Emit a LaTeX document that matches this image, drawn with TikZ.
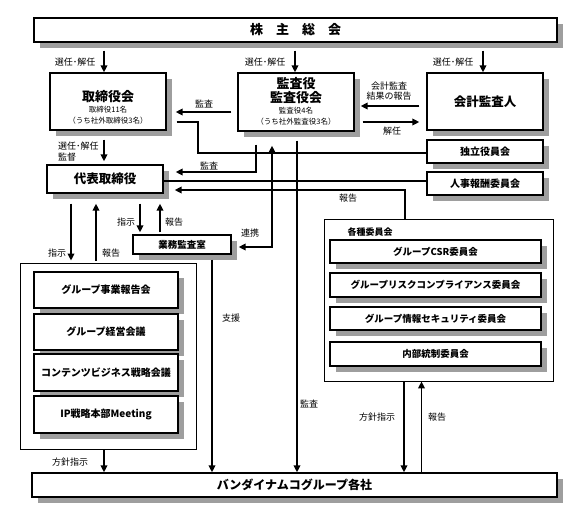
\documentclass[tikz,border=0pt]{standalone}
\usepackage{fontspec}
\setmainfont{Noto Sans CJK JP}
\usetikzlibrary{shadows,calc,arrows.meta}
\begin{document}
\begin{tikzpicture}[x=1pt,y=-1pt,
 box/.style={draw, line width=1.3pt, fill=white, inner sep=0pt, align=center,
   drop shadow={shadow xshift=5.5pt, shadow yshift=-5.5pt, fill=black!38, opacity=1}},
 cont/.style={draw, line width=0.8pt, inner sep=0pt},
 arr/.style={line width=1.8pt, -{Triangle[length=7pt,width=6.5pt]}},
 arrb/.style={line width=1.8pt, {Triangle[length=7pt,width=6.5pt]}-{Triangle[length=7pt,width=6.5pt]}},
 ln/.style={line width=1.8pt},
 lab/.style={font=\fontsize{9}{10.5}\selectfont, inner sep=0pt},
 sm/.style={font=\fontsize{7.5}{9}\selectfont, inner sep=0pt},
 ttl/.style={font=\bfseries\fontsize{13}{15}\selectfont, inner sep=0pt},
 bf/.style={font=\bfseries\fontsize{#1}{#1}\selectfont},
]
\useasboundingbox (0,0) rectangle (573,512);
\fill[white] (0,0) rectangle (573,512);

% containers
\node[cont, minimum width=176pt, minimum height=186pt] (leftc) at (108,356) {};
\node[cont, minimum width=229pt, minimum height=162pt] (kakushu) at (438.5,300) {};

% boxes
\node[box, bf=13, minimum width=523pt, minimum height=24pt] (share) at (295.5,30) {株　主　総　会};

\node[box, minimum width=116pt, minimum height=57pt] (tori) at (108,101.5) {};
\node[ttl] (toriT) at (108,97) {取締役会};
\node[sm] (toriS1) at (108,109.5) {取締役11名};
\node[sm] (toriS2) at (108,120.5) {（うち社外取締役3名）};

\node[box, minimum width=116pt, minimum height=58pt] (kansa) at (296,102) {};
\node[ttl] (kansaT1) at (296,84) {監査役};
\node[ttl] (kansaT2) at (296,97.5) {監査役会};
\node[sm] (kansaS1) at (296,111) {監査役4名};
\node[sm] (kansaS2) at (296,122) {（うち社外監査役3名）};

\node[box, bf=12.5, minimum width=116pt, minimum height=57pt] (kaikei) at (485,101.5) {会計監査人};
\node[box, bf=10, minimum width=116pt, minimum height=23pt] (dokuritsu) at (485,151.5) {独立役員会};
\node[box, bf=10, minimum width=116pt, minimum height=23pt] (jinji) at (485,183.5) {人事報酬委員会};
\node[box, bf=12.5, minimum width=116pt, minimum height=28pt] (daihyo) at (105,179) {代表取締役};
\node[box, bf=9.5, minimum width=98pt, minimum height=19pt] (gyomu) at (182,244.5) {業務監査室};

\node[box, bf=10, minimum width=144pt, minimum height=36pt] (g1) at (106,290) {グループ事業報告会};
\node[box, bf=10, minimum width=144pt, minimum height=36pt] (g2) at (106,332) {グループ経営会議};
\node[box, bf=10, minimum width=144pt, minimum height=37pt] (g3) at (106,372.5) {コンテンツビジネス戦略会議};
\node[box, bf=10, minimum width=144pt, minimum height=37pt] (g4) at (106,414.5) {IP戦略本部Meeting};

\node[bf=9, inner sep=0pt] (kakushuL) at (370,232) {各種委員会};
\node[box, bf=9.5, minimum width=211pt, minimum height=23pt] (c1) at (435.5,251.5) {グループCSR委員会};
\node[box, bf=9.5, minimum width=211pt, minimum height=24pt] (c2) at (435.5,285) {グループリスクコンプライアンス委員会};
\node[box, bf=9.5, minimum width=211pt, minimum height=23pt] (c3) at (435.5,318.5) {グループ情報セキュリティ委員会};
\node[box, bf=9.5, minimum width=211pt, minimum height=24pt] (c4) at (435.5,354) {内部統制委員会};

\node[box, bf=12, minimum width=525pt, minimum height=24pt] (kaisha) at (294.5,485) {バンダイナムコグループ各社};

% shareholders arrows
\draw[arr] ($(share.south -| tori.north)+(-4,8)$) -- ($(tori.north)+(-4,0)$);
\draw[arr] ($(share.south -| kansa.north)+(-1,8)$) -- ($(kansa.north)+(-1,0)$);
\draw[arr] ($(share.south -| kaikei.north)+(-2,8)$) -- ($(kaikei.north)+(-2,0)$);
\node[lab] (l1) at (75,62) {選任･解任};
\node[lab] (l2) at (265,62) {選任･解任};
\node[lab] (l3) at (453,62) {選任･解任};

% kansa -> tori
\draw[arr] ($(kansa.west)+(-6,10)$) -- ($(kansa.west -| tori.east)+(9,10)$);
\node[lab] (l4) at (204,104) {監査};

% kaikei <-> kansa
\draw[arr] ($(kaikei.west)+(-7,4.5)$) -- ($(kaikei.west -| kansa.east)+(6,4.5)$);
\draw[arr] ($(kansa.east)+(8,20)$) -- ($(kansa.east -| kaikei.west)+(-7,20)$);
\node[lab, align=center] (l5) at (389,91) {会計監査\\結果の報告};
\node[lab] (l6) at (392,131) {解任};

% tori -> dokuritsu
\draw[ln] ($(tori.east)+(10,20.5)$) -| ($(dokuritsu.west)+(-228,1.5)$) -- ($(dokuritsu.west)+(0,1.5)$);

% tori -> daihyo
\draw[arr] ($(tori.south)+(-4,9)$) -- ($(daihyo.north)+(-1,-3)$);
\node[lab, align=left, anchor=west] (l7) at (58,151.5) {選任･解任\\監督};

% kansa -> daihyo
\draw[arr] ($(kansa.south)+(-40,13)$) |- ($(daihyo.east)+(12,-7)$);
\node[lab] (l8) at (209,166) {監査};

% daihyo -> jinji
\draw[ln] ($(daihyo.east)+(0,2)$) -- ($(daihyo.east -| jinji.west)+(0,2)$);

% kakushu -> daihyo (report)
\draw[arr] ($(kakushu.north)+(-33.5,0)$) |- ($(daihyo.east)+(11,11)$);
\node[lab] (l9) at (348,198) {報告};

% gyomu <-> kansa (renkei)
\draw[arrb] ($(gyomu.east)+(7,2.5)$) -| ($(kansa.south)+(-24,14)$);
\node[lab] (l10) at (250,233) {連携};

% kansa -> kaisha
\draw[arr] ($(kansa.south)+(1,9)$) -- ($(kansa.south |- kaisha.north)+(1,0)$);
\node[lab] (l11) at (309,404) {監査};

% daihyo <-> gyomu
\draw[arr] ($(daihyo.south)+(35,10)$) -- ($(gyomu.north)+(-42,-2)$);
\draw[arr] ($(gyomu.north)+(-22,-2)$) -- ($(daihyo.south)+(55,10)$);
\node[lab] (l12) at (126,222) {指示};
\node[lab] (l13) at (174,222) {報告};

% daihyo <-> left group
\draw[arr] ($(daihyo.south)+(-34,10)$) -- ($(leftc.north)+(-37,-2)$);
\draw[arr] ($(leftc.north)+(-12,-2)$) -- ($(daihyo.south)+(-9,10)$);
\node[lab] (l14) at (57,253) {指示};
\node[lab] (l15) at (111,253) {報告};

% gyomu -> kaisha
\draw[arr] ($(gyomu.south)+(30,5)$) -- ($(gyomu.south |- kaisha.north)+(30,0)$);
\node[lab] (l16) at (231,318) {支援};

% left group -> kaisha
\draw[arr] ($(leftc.south)+(-4,0)$) -- ($(leftc.south |- kaisha.north)+(-4,0)$);
\node[lab] (l17) at (70,462) {方針指示};

% kakushu <-> kaisha
\draw[arr] ($(kakushu.south)+(-34.5,0)$) -- ($(kakushu.south |- kaisha.north)+(-34.5,0)$);
\draw[arr] ($(kakushu.south |- kaisha.north)+(-17,0)$) -- ($(kakushu.south)+(-17,0)$);
\node[lab] (l18) at (377,417) {方針指示};
\node[lab] (l19) at (437,417) {報告};
\end{tikzpicture}
\end{document}
